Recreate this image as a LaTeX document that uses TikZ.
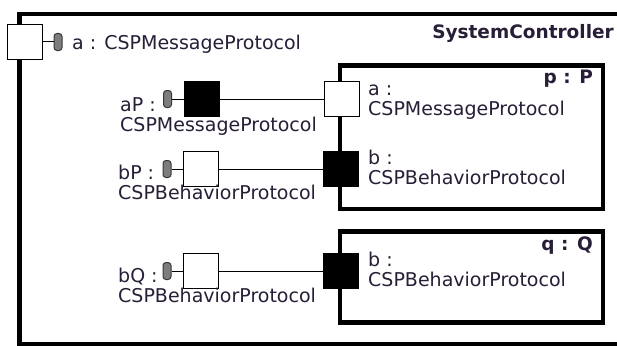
\documentclass[tikz,border=0pt]{standalone}
\usepackage{fontspec}
\setmainfont{DejaVu Sans}
\definecolor{txt}{RGB}{40,30,55}
\definecolor{lolli}{RGB}{125,125,125}
\definecolor{lolliedge}{RGB}{55,55,55}
\begin{document}
\begin{tikzpicture}[x=1pt,y=-1pt,
  frame/.style={draw=black,line width=4.5pt},
  partbox/.style={draw=black,line width=4.5pt,inner sep=0pt,fill=white},
  port/.style={draw=black,line width=1.2pt,minimum size=35pt,inner sep=0pt},
  portw/.style={port,fill=white},
  portb/.style={port,fill=black},
  lolly/.style={draw=lolliedge,line width=1pt,fill=lolli,rounded corners=3pt,
    minimum width=8pt,minimum height=17pt,inner sep=0pt},
  wire/.style={draw=black,line width=1pt},
  lbl/.style={text=txt,font=\fontsize{19}{20}\selectfont,inner sep=0pt,anchor=base west},
  ttl/.style={text=txt,font=\fontsize{18.5}{20}\selectfont\bfseries,inner sep=0pt,anchor=base east}]
\useasboundingbox (0,0) rectangle (617,345);
\fill[white] (0,0) rectangle (617,345);

% enclosing structured class
\draw[frame] (19.5,14) rectangle (660,344.5);
\node[ttl] (sysname) at (614,38) {SystemController};

% parts p and q
\node[partbox,minimum width=263pt,minimum height=143.5pt] (p) at (471.5,137.25) {};
\node[partbox,minimum width=263pt,minimum height=91pt] (q) at (471.5,277) {};
\node[ttl] (pname) at (593,83) {p : P};
\node[ttl] (qname) at (593,250) {q : Q};

% boundary port of SystemController
\node[portw] (a) at (25,42) {};
\node[lolly] (la) at (58,42) {};
\draw[wire] (a.east) -- (la.west);
\node[lbl] (atxt) at (72,49) {a : CSPMessageProtocol};

% internal ports
\node[portb] (aP) at (202,99) {};
\node[portw] (bP) at (201,169) {};
\node[portw] (bQ) at (201,271) {};
\node[lolly] (laP) at (167.5,99) {};
\node[lolly] (lbP) at (167,169) {};
\node[lolly] (lbQ) at (167,271) {};
\draw[wire] (laP.east) -- (aP.west);
\draw[wire] (lbP.east) -- (bP.west);
\draw[wire] (lbQ.east) -- (bQ.west);

\node[lbl] (aPt1) at (120,111.5) {aP :};
\node[lbl] (aPt2) at (120,131.5) {CSPMessageProtocol};
\node[lbl] (bPt1) at (118,179) {bP :};
\node[lbl] (bPt2) at (118,199) {CSPBehaviorProtocol};
\node[lbl] (bQt1) at (118,282) {bQ :};
\node[lbl] (bQt2) at (118,302) {CSPBehaviorProtocol};

% ports of the parts
\node[portw] (pa) at (342,99) {};
\node[portb] (pb) at (341,169) {};
\node[portb] (qb) at (341,271) {};

\node[lbl] (pat1) at (368,95) {a :};
\node[lbl] (pat2) at (368,115) {CSPMessageProtocol};
\node[lbl] (pbt1) at (368,164) {b :};
\node[lbl] (pbt2) at (368,184) {CSPBehaviorProtocol};
\node[lbl] (qbt1) at (368,266.5) {b :};
\node[lbl] (qbt2) at (368,286.5) {CSPBehaviorProtocol};

% connectors
\draw[wire] (aP.east) -- (pa.west);
\draw[wire] (bP.east) -- (pb.west);
\draw[wire] (bQ.east) -- (qb.west);
\end{tikzpicture}
\end{document}
